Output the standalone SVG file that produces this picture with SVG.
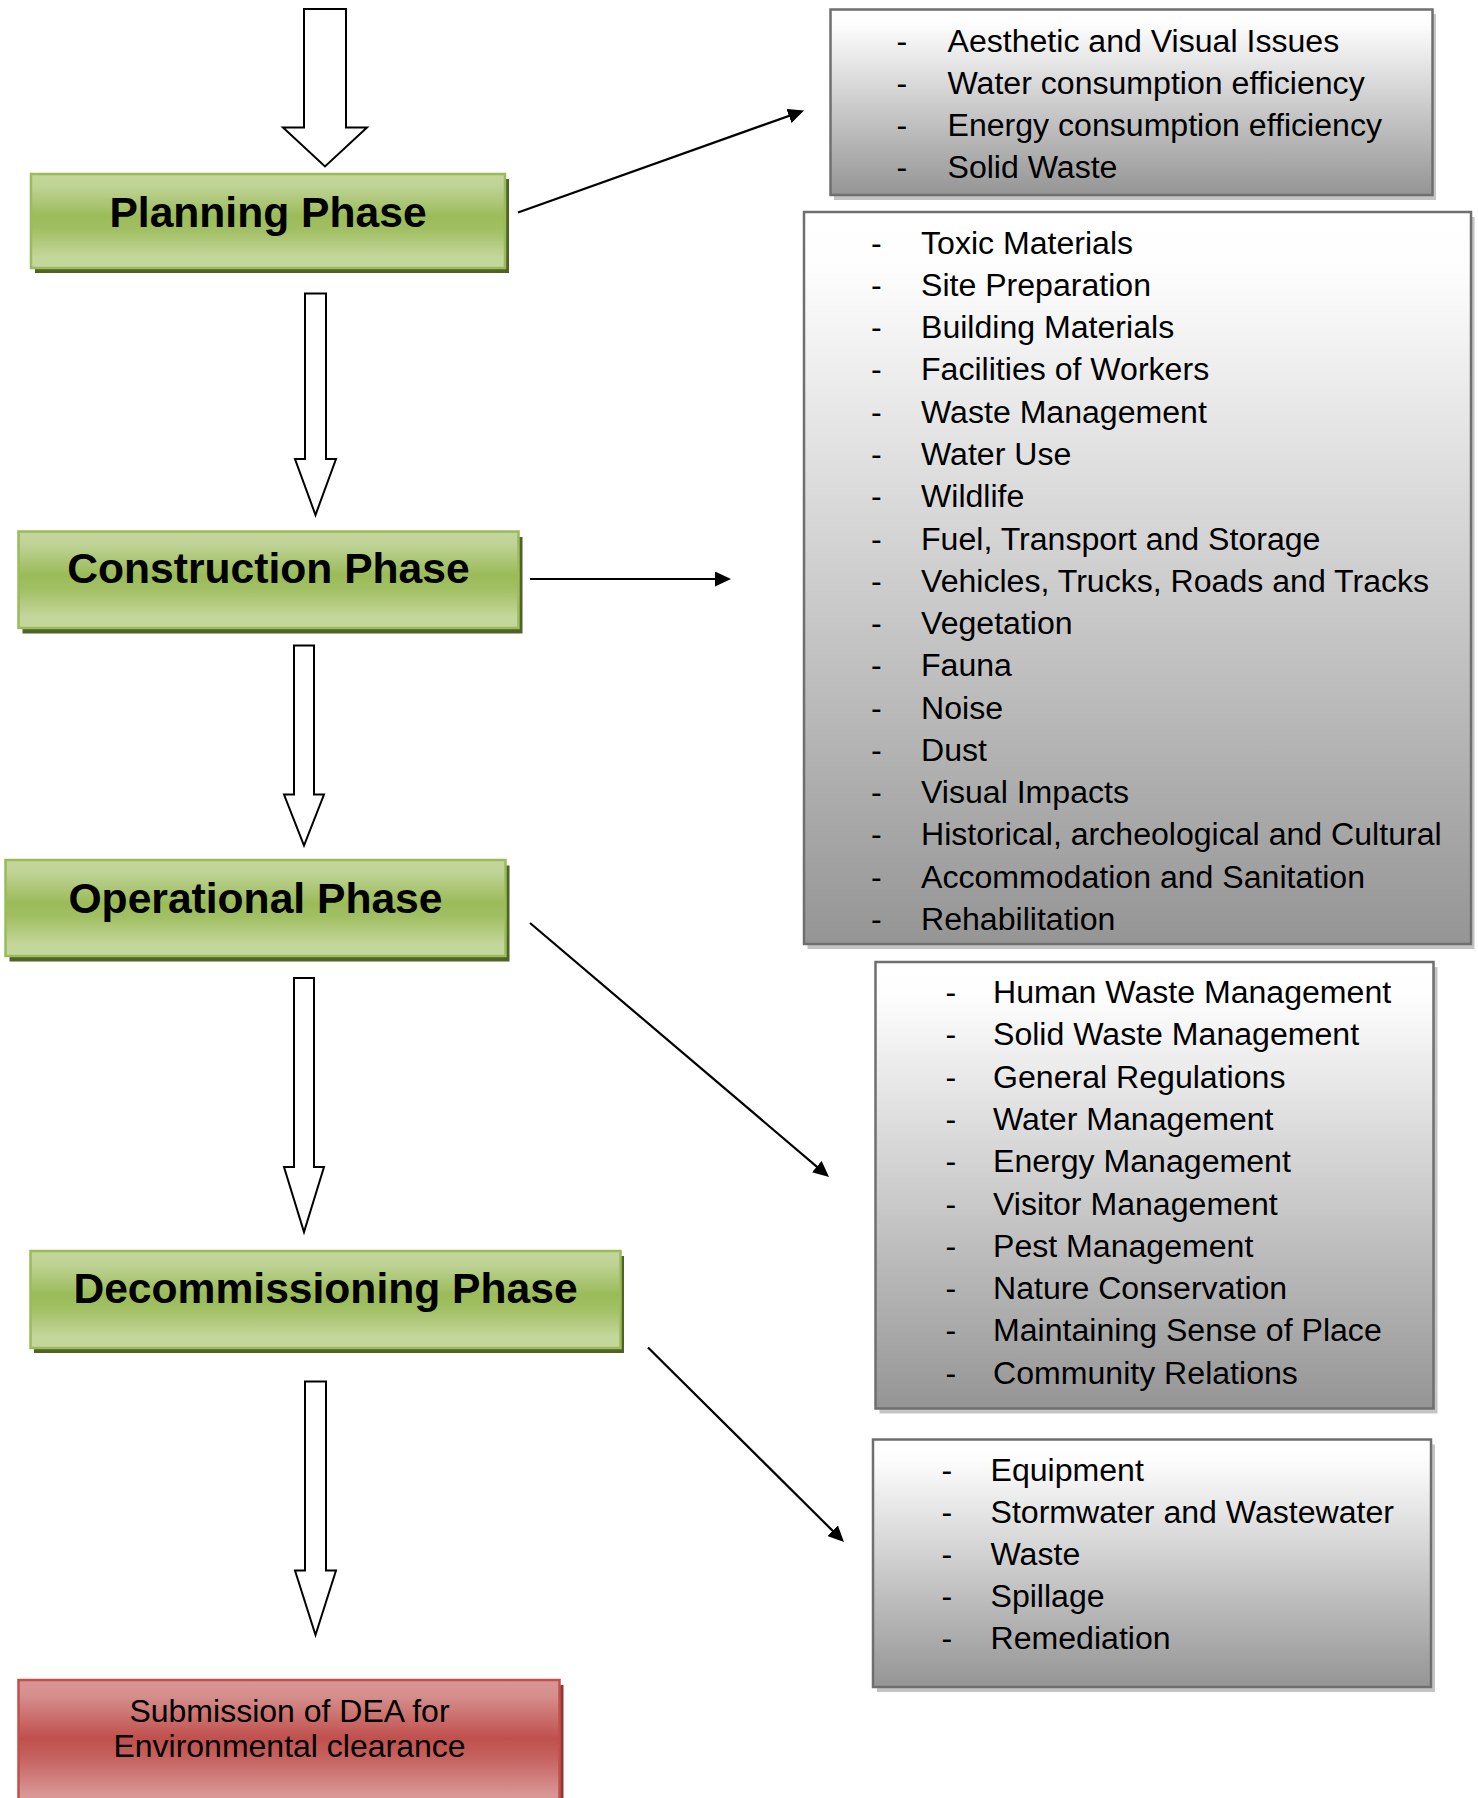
<svg xmlns="http://www.w3.org/2000/svg" width="1478" height="1798" viewBox="0 0 1478 1798">
<defs>
<linearGradient id="gGreen" x1="0" y1="0" x2="0" y2="1">
<stop offset="0" stop-color="#c3d69b"/>
<stop offset="0.12" stop-color="#c0d498"/>
<stop offset="0.45" stop-color="#9bbb59"/>
<stop offset="0.6" stop-color="#a2c064"/>
<stop offset="0.88" stop-color="#c3d69b"/>
<stop offset="1" stop-color="#c3d69b"/>
</linearGradient>
<linearGradient id="gRed" x1="0" y1="0" x2="0" y2="1">
<stop offset="0" stop-color="#d99694"/>
<stop offset="0.12" stop-color="#d58f8d"/>
<stop offset="0.45" stop-color="#c0504d"/>
<stop offset="0.6" stop-color="#c6625f"/>
<stop offset="0.88" stop-color="#d99694"/>
<stop offset="1" stop-color="#d99694"/>
</linearGradient>
<linearGradient id="gGray" x1="0" y1="0" x2="0" y2="1">
<stop offset="0" stop-color="#ffffff"/>
<stop offset="0.08" stop-color="#fdfdfd"/>
<stop offset="1" stop-color="#959595"/>
</linearGradient>
<marker id="ah" viewBox="0 0 16 15" markerWidth="16" markerHeight="15" refX="8" refY="7.5" orient="auto" markerUnits="userSpaceOnUse">
<path d="M0,0 L16,7.5 L0,15 Z" fill="#000"/>
</marker>
</defs>
<style>
.phase{fill:url(#gGreen);stroke:#9bbb59;stroke-width:2.5}
.phaseShadow{fill:#4f6228}
.final{fill:url(#gRed);stroke:#c0504d;stroke-width:2.5}
.finalShadow{fill:#943634}
.list{fill:url(#gGray);stroke:#6f6f6f;stroke-width:2.5}
.listShadow{fill:#c4c4c4}
.ptxt{font-family:"Liberation Sans",Arial,Helvetica,sans-serif;font-weight:bold;font-size:42.6px;fill:#000;text-anchor:middle}
.ftxt{font-family:"Liberation Sans",Arial,Helvetica,sans-serif;font-size:32px;fill:#000;text-anchor:middle}
.ltxt{font-family:"Liberation Sans",Arial,Helvetica,sans-serif;font-size:32.1px;fill:#000}
.block{fill:#fff;stroke:#000;stroke-width:2;stroke-linejoin:miter}
.conn{stroke:#000;stroke-width:2.2;fill:none;marker-end:url(#ah)}
</style>
<rect width="1478" height="1798" fill="#fff"/>

<g id="block-arrows">
<polygon class="block" points="304,9 346,9 346,127.5 367,127.5 325,166.5 283,127.5 304,127.5"/>
<polygon class="block" points="305,293.5 326,293.5 326,459 336,459 315.5,515 295,459 305,459"/>
<polygon class="block" points="294,645.5 314,645.5 314,794.5 324,794.5 304,845.5 284,794.5 294,794.5"/>
<polygon class="block" points="294,978 314,978 314,1167 324,1167 304,1232 284,1167 294,1167"/>
<polygon class="block" points="305,1381.5 326,1381.5 326,1570.5 336,1570.5 315.5,1635 295,1570.5 305,1570.5"/>
</g>

<g id="planning">
<rect class="phaseShadow" x="35" y="179" width="474" height="94"/>
<rect class="phase" x="31" y="174" width="474" height="94"/>
<text class="ptxt" x="268" y="227">Planning Phase</text>
</g>

<g id="construction">
<rect class="phaseShadow" x="22.5" y="537" width="500" height="96.5"/>
<rect class="phase" x="18.5" y="531.5" width="500" height="96.5"/>
<text class="ptxt" x="268.5" y="582.5">Construction Phase</text>
</g>

<g id="operational">
<rect class="phaseShadow" x="9.5" y="865.5" width="500" height="96"/>
<rect class="phase" x="5.5" y="860" width="500" height="96"/>
<text class="ptxt" x="255.5" y="912.5">Operational Phase</text>
</g>

<g id="decommissioning">
<rect class="phaseShadow" x="34" y="1256" width="590" height="97"/>
<rect class="phase" x="30.5" y="1251" width="590" height="97"/>
<text class="ptxt" x="325.5" y="1303">Decommissioning Phase</text>
</g>

<g id="submission">
<rect class="finalShadow" x="22.5" y="1685" width="541" height="130"/>
<rect class="final" x="18.5" y="1680" width="541" height="130"/>
<text class="ftxt" x="289.5" y="1722">Submission of DEA for</text>
<text class="ftxt" x="289.5" y="1757">Environmental clearance</text>
</g>

<g id="planning-issues">
<rect class="listShadow" x="834" y="14" width="602" height="186"/>
<rect class="list" x="830.5" y="9.5" width="602" height="185.5"/>
<g class="ltxt">
<text x="896.5" y="51.5">-</text><text x="947.5" y="51.5">Aesthetic and Visual Issues</text>
<text x="896.5" y="93.6">-</text><text x="947.5" y="93.6">Water consumption efficiency</text>
<text x="896.5" y="135.7">-</text><text x="947.5" y="135.7">Energy consumption efficiency</text>
<text x="896.5" y="177.8">-</text><text x="947.5" y="177.8">Solid Waste</text>
</g>
</g>

<g id="construction-issues">
<rect class="listShadow" x="807.5" y="217" width="667" height="732"/>
<rect class="list" x="804" y="212" width="667" height="732"/>
<g class="ltxt">
<text x="871" y="253.5">-</text><text x="921" y="253.5">Toxic Materials</text>
<text x="871" y="295.8">-</text><text x="921" y="295.8">Site Preparation</text>
<text x="871" y="338.1">-</text><text x="921" y="338.1">Building Materials</text>
<text x="871" y="380.3">-</text><text x="921" y="380.3">Facilities of Workers</text>
<text x="871" y="422.6">-</text><text x="921" y="422.6">Waste Management</text>
<text x="871" y="464.9">-</text><text x="921" y="464.9">Water Use</text>
<text x="871" y="507.2">-</text><text x="921" y="507.2">Wildlife</text>
<text x="871" y="549.5">-</text><text x="921" y="549.5">Fuel, Transport and Storage</text>
<text x="871" y="591.7">-</text><text x="921" y="591.7">Vehicles, Trucks, Roads and Tracks</text>
<text x="871" y="634">-</text><text x="921" y="634">Vegetation</text>
<text x="871" y="676.3">-</text><text x="921" y="676.3">Fauna</text>
<text x="871" y="718.6">-</text><text x="921" y="718.6">Noise</text>
<text x="871" y="760.9">-</text><text x="921" y="760.9">Dust</text>
<text x="871" y="803.1">-</text><text x="921" y="803.1">Visual Impacts</text>
<text x="871" y="845.4">-</text><text x="921" y="845.4">Historical, archeological and Cultural</text>
<text x="871" y="887.7">-</text><text x="921" y="887.7">Accommodation and Sanitation</text>
<text x="871" y="930">-</text><text x="921" y="930">Rehabilitation</text>
</g>
</g>

<g id="operational-issues">
<rect class="listShadow" x="879.5" y="967" width="558" height="446.5"/>
<rect class="list" x="875.5" y="962" width="558" height="446.5"/>
<g class="ltxt">
<text x="945.5" y="1003">-</text><text x="993" y="1003">Human Waste Management</text>
<text x="945.5" y="1045.3">-</text><text x="993" y="1045.3">Solid Waste Management</text>
<text x="945.5" y="1087.6">-</text><text x="993" y="1087.6">General Regulations</text>
<text x="945.5" y="1129.9">-</text><text x="993" y="1129.9">Water Management</text>
<text x="945.5" y="1172.2">-</text><text x="993" y="1172.2">Energy Management</text>
<text x="945.5" y="1214.5">-</text><text x="993" y="1214.5">Visitor Management</text>
<text x="945.5" y="1256.8">-</text><text x="993" y="1256.8">Pest Management</text>
<text x="945.5" y="1299.1">-</text><text x="993" y="1299.1">Nature Conservation</text>
<text x="945.5" y="1341.4">-</text><text x="993" y="1341.4">Maintaining Sense of Place</text>
<text x="945.5" y="1383.7">-</text><text x="993" y="1383.7">Community Relations</text>
</g>
</g>

<g id="decommissioning-issues">
<rect class="listShadow" x="877" y="1444.5" width="558" height="247.5"/>
<rect class="list" x="873" y="1439.5" width="558" height="247.5"/>
<g class="ltxt">
<text x="941.5" y="1481">-</text><text x="990.5" y="1481">Equipment</text>
<text x="941.5" y="1523">-</text><text x="990.5" y="1523">Stormwater and Wastewater</text>
<text x="941.5" y="1565">-</text><text x="990.5" y="1565">Waste</text>
<text x="941.5" y="1607">-</text><text x="990.5" y="1607">Spillage</text>
<text x="941.5" y="1649">-</text><text x="990.5" y="1649">Remediation</text>
</g>
</g>

<g id="connectors">
<line class="conn" x1="518" y1="212.5" x2="796.5" y2="113.2"/>
<line class="conn" x1="530" y1="579" x2="723" y2="579"/>
<line class="conn" x1="530" y1="923" x2="822.9" y2="1171.8"/>
<line class="conn" x1="648" y1="1347.5" x2="838.3" y2="1536.4"/>
</g>
</svg>
